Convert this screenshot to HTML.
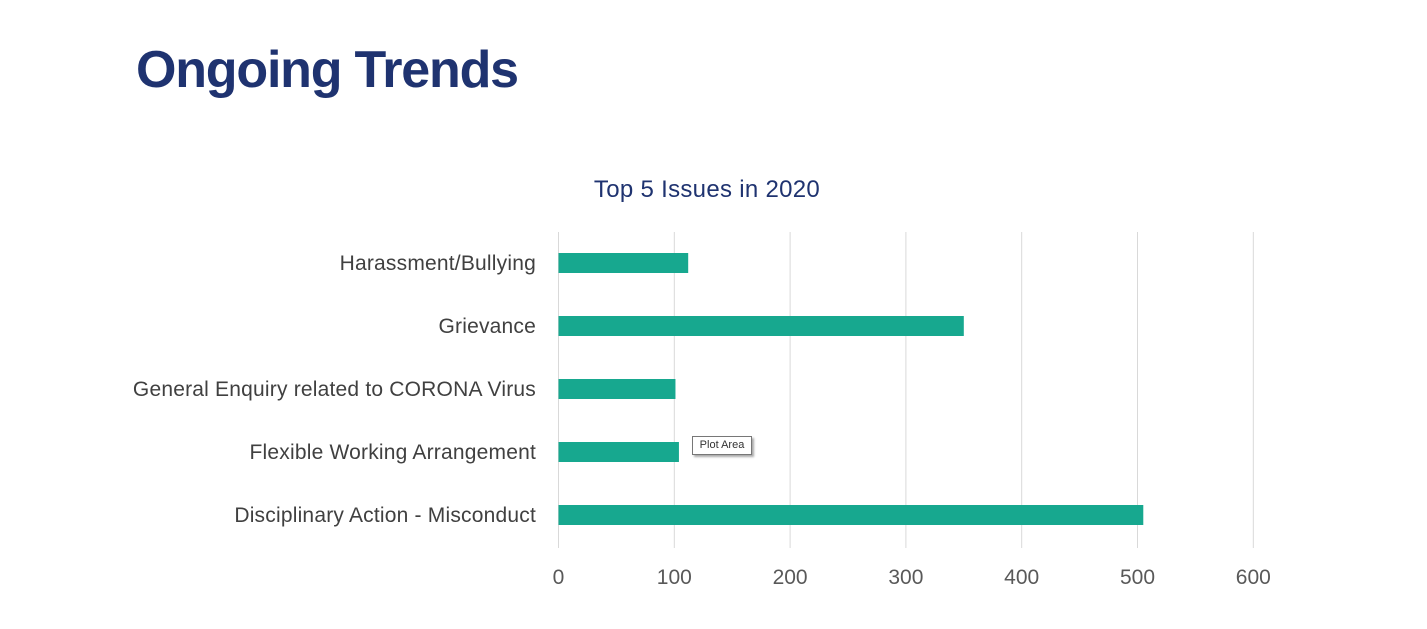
<!DOCTYPE html>
<html><head><meta charset="utf-8"><style>
body{margin:0;width:1427px;height:629px;background:#fff;font-family:"Liberation Sans",sans-serif;overflow:hidden;position:relative}
#title{position:absolute;left:136px;top:40px;font-size:52px;font-weight:bold;color:#1f3370;letter-spacing:-1.2px}
#ctitle{position:absolute;left:0;width:1414px;top:176px;text-align:center;font-size:24px;color:#1f3370;letter-spacing:0.3px}
svg{position:absolute;left:0;top:0}
#tip{position:absolute;left:692px;top:436px;width:58px;height:17px;border:1px solid #777;background:#fff;font-size:11px;color:#333;text-align:center;line-height:17px;box-shadow:2px 2px 2px #aaa}
</style></head><body>
<div id="title">Ongoing Trends</div>
<div id="ctitle">Top 5 Issues in 2020</div>
<svg id="chart" width="1427" height="629"></svg>
<div id="tip">Plot Area</div>
<script>
const categories=["Harassment/Bullying","Grievance","General Enquiry related to CORONA Virus","Flexible Working Arrangement","Disciplinary Action - Misconduct"];
const values=[112,350,101,104,505];
const ticks=[0,100,200,300,400,500,600];
const svg=document.getElementById('chart');
const NS='http://www.w3.org/2000/svg';
const x0=558.5,scale=1.158,yTop=232,band=63;
const xs=v=>x0+v*scale;
const yc=i=>263+i*band;
function mk(t,a){const e=document.createElementNS(NS,t);for(const k in a)e.setAttribute(k,a[k]);svg.appendChild(e);return e;}
ticks.forEach(t=>{
 const l=mk('line',{x1:xs(t),x2:xs(t),y1:yTop,y2:548,stroke:'#d9d9d9','stroke-width':1});
 
 
 const tx=mk('text',{x:xs(t),y:584,'text-anchor':'middle','font-size':21,fill:'#595959','font-family':'Liberation Sans, sans-serif'});
 tx.textContent=t;
 
 
});
categories.forEach((c,i)=>{
 const r=mk('rect',{x:xs(0),y:yc(i)-10,width:xs(values[i])-xs(0),height:20,fill:'#17a88f'});
 
 
 const t=mk('text',{x:536,y:yc(i)+7,'text-anchor':'end','font-size':21,'letter-spacing':'0.2',fill:'#404040','font-family':'Liberation Sans, sans-serif'});
 t.textContent=c;
 
 
});
</script>
</body></html>
